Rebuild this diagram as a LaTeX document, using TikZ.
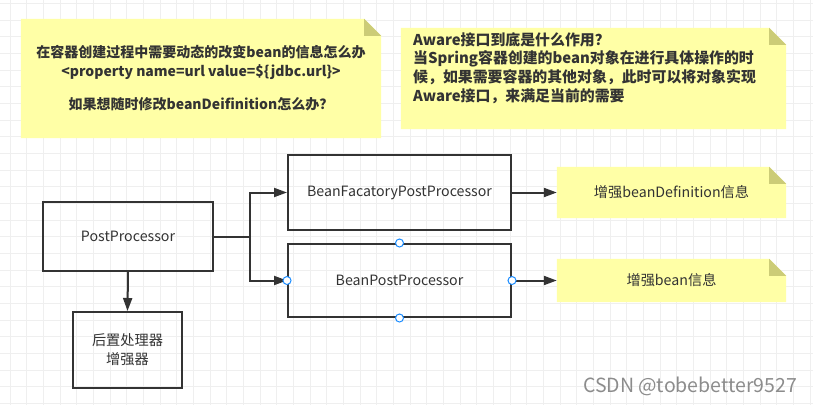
\documentclass[tikz,border=0pt]{standalone}
\usepackage{fontspec}
\setmainfont{Noto Sans CJK SC}
\usetikzlibrary{arrows.meta,backgrounds}
\definecolor{ink}{HTML}{333333}
\definecolor{notefill}{HTML}{FFFFA6}
\definecolor{notefold}{HTML}{CCCC77}
\definecolor{handleblue}{HTML}{1A8CFF}
\definecolor{gridgray}{HTML}{EFEFEF}

\begin{document}
\begin{tikzpicture} [x=1pt,y=-1pt,
  box/.style={draw=ink,line width=2pt,text=ink,align=center,
    font=\fontsize{14.2}{19}\selectfont},
  note/.style={inner sep=0pt,text=ink,font=\fontsize{14.2}{19}\selectfont},
  conn/.style={draw=ink,line width=2pt,-{Triangle[length=13pt,width=9pt]}},
  handle/.style={circle,draw=handleblue,fill=white,line width=1pt,
    inner sep=0pt,minimum size=8pt}]
\useasboundingbox (0,0) rectangle (813,405);

\node [note,minimum width=360pt,minimum height=119pt] (q1) at (201,78.5) {};
\node [note,align=center,font=\bfseries\fontsize{14}{19}\selectfont] at (201,78) {在容器创建过程中需要动态的改变bean的信息怎么办\\<property name=url value=\$\{jdbc.url\}>\\[14pt]如果想随时修改beanDeifinition怎么办？};
\node [note,minimum width=385pt,minimum height=101pt] (q2) at (593.5,78.5) {};
\node [note,anchor=north west,align=left,font=\bfseries\fontsize{14.9}{18.7}\selectfont] at (413,32) {Aware接口到底是什么作用？\\当Spring容器创建的bean对象在进行具体操作的时\\候，如果需要容器的其他对象，此时可以将对象实现\\Aware接口，来满足当前的需要};

\node [box,minimum width=170pt,minimum height=69pt] (pp) at (128,236.5) {PostProcessor};
\node [box,minimum width=223pt,minimum height=75pt] (bfpp) at (399.5,192.5) {BeanFacatoryPostProcessor};
\node [box,minimum width=223pt,minimum height=73pt] (bpp) at (399.5,280.5) {BeanPostProcessor};
\node [box,minimum width=109pt,minimum height=76pt] (enh) at (127.5,350) {后置处理器\\增强器};
\node [note,minimum width=229pt,minimum height=51pt] (e1) at (671.5,192.5) {增强beanDefinition信息};
\node [note,minimum width=229pt,minimum height=43pt] (e2) at (671.5,280.5) {增强bean信息};

\begin{scope}[on background layer]
\fill[white] (0,0) rectangle (813,405);
\foreach \gx in {10,26.667,...,813} \draw[gridgray,line width=0.8pt] (\gx,0) -- (\gx,405);
\foreach \gy in {3.333,20,...,405} \draw[gridgray,line width=0.8pt] (0,\gy) -- (813,\gy);
\foreach \n in {q1,q2,e1,e2} {
  \fill[notefill] (\n.south west) |- ([xshift=-17pt]\n.north east) -- ([yshift=-17pt]\n.north east) -- (\n.south east) -- cycle;
  \fill[notefold] ([xshift=-17pt]\n.north east) -- ([xshift=-17pt,yshift=-17pt]\n.north east) -- ([yshift=-17pt]\n.north east) -- cycle;
}
\end{scope}

\coordinate (fork) at (250,236.5);
\draw[conn] (pp.east) -- (fork) |- (bfpp.west);
\draw[conn] (pp.east) -- (fork) |- (bpp.west);
\draw[conn] (pp.south) -- (enh.north);
\draw[conn] (bfpp.east) -- (e1.west);
\draw[conn] (bpp.east) -- (e2.west);

\foreach \a in {north,south,east,west}
  \node [handle] (h-\a) at (bpp.\a) {};

\node [text=black!45,font=\fontsize{19.5}{22}\selectfont] (mark) at (690,386) {CSDN @tobebetter9527};
\end{tikzpicture}
\end{document}
